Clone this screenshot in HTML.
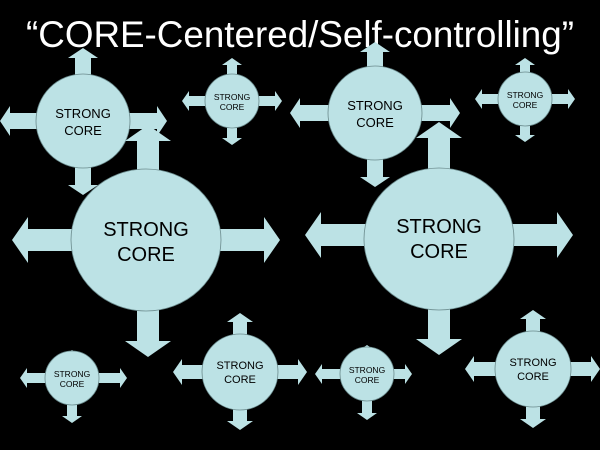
<!DOCTYPE html>
<html><head><style>
html,body{margin:0;padding:0;background:#000;width:600px;height:450px;overflow:hidden}
svg{display:block}
text{font-family:"Liberation Sans",Arial,sans-serif;fill:#000;text-anchor:middle}
polygon,circle,ellipse{fill:#bce2e5}
circle,ellipse{stroke:#6a8a8c;stroke-width:0.8}
</style></head><body>
<svg width="600" height="450" viewBox="0 0 600 450">
<rect width="600" height="450" fill="#000"/>
<text x="300" y="47" style="fill:#fff;font-size:37px" textLength="548" lengthAdjust="spacingAndGlyphs">“CORE-Centered/Self-controlling”</text>

<!-- node 1 -->
<polygon points="75,121 75,58 68,58 83,48 98,58 91,58 91,121"/>
<polygon points="75,121 75,185 68,185 83,195 98,185 91,185 91,121"/>
<polygon points="83,113 10,113 10,106 0,121 10,136 10,129 83,129"/>
<polygon points="83,113 157,113 157,106 167,121 157,136 157,129 83,129"/>
<circle cx="83" cy="121" r="47"/>
<text x="83" y="118" font-size="13">STRONG</text><text x="83" y="135" font-size="13">CORE</text>

<!-- node 2 -->
<polygon points="227,101 227,65 222,65 232,58 242,65 237,65 237,101"/>
<polygon points="227,101 227,138 222,138 232,145 242,138 237,138 237,101"/>
<polygon points="232,96 189,96 189,91 182,101 189,111 189,106 232,106"/>
<polygon points="232,96 275,96 275,91 282,101 275,111 275,106 232,106"/>
<circle cx="232" cy="101" r="27"/>
<text x="232" y="100" font-size="8.5">STRONG</text><text x="232" y="110" font-size="8.5">CORE</text>

<!-- node 4 -->
<polygon points="367,113 367,52 360,52 375,42 390,52 383,52 383,113"/>
<polygon points="367,113 367,177 360,177 375,187 390,177 383,177 383,113"/>
<polygon points="375,105 300,105 300,98 290,113 300,128 300,121 375,121"/>
<polygon points="375,105 450,105 450,98 460,113 450,128 450,121 375,121"/>
<circle cx="375" cy="113" r="47"/>
<text x="375" y="110" font-size="13">STRONG</text><text x="375" y="127" font-size="13">CORE</text>

<!-- node 5 -->
<polygon points="520,99 520,65 515,65 525,58 535,65 530,65 530,99"/>
<polygon points="520,99 520,135 515,135 525,142 535,135 530,135 530,99"/>
<polygon points="525,94 482,94 482,89 475,99 482,109 482,104 525,104"/>
<polygon points="525,94 568,94 568,89 575,99 568,109 568,104 525,104"/>
<circle cx="525" cy="99" r="27"/>
<text x="525" y="98" font-size="8.5">STRONG</text><text x="525" y="108" font-size="8.5">CORE</text>

<!-- node 7 -->
<polygon points="67,378 67,357 62,357 72,350 82,357 77,357 77,378"/>
<polygon points="67,378 67,416 62,416 72,423 82,416 77,416 77,378"/>
<polygon points="72,373 27,373 27,368 20,378 27,388 27,383 72,383"/>
<polygon points="72,373 120,373 120,368 127,378 120,388 120,383 72,383"/>
<circle cx="72" cy="378" r="27"/>
<text x="72" y="377" font-size="8.5">STRONG</text><text x="72" y="387" font-size="8.5">CORE</text>

<!-- node 8 -->
<polygon points="233,372 233,322 227,322 240,313 253,322 247,322 247,372"/>
<polygon points="233,372 233,421 227,421 240,430 253,421 247,421 247,372"/>
<polygon points="240,365 182,365 182,359 173,372 182,385 182,379 240,379"/>
<polygon points="240,365 298,365 298,359 307,372 298,385 298,379 240,379"/>
<circle cx="240" cy="372" r="38"/>
<text x="240" y="369" font-size="11">STRONG</text><text x="240" y="383" font-size="11">CORE</text>

<!-- node 9 -->
<polygon points="362,374 362,352 357,352 367,345 377,352 372,352 372,374"/>
<polygon points="362,374 362,413 357,413 367,420 377,413 372,413 372,374"/>
<polygon points="367,369 322,369 322,364 315,374 322,384 322,379 367,379"/>
<polygon points="367,369 405,369 405,364 412,374 405,384 405,379 367,379"/>
<circle cx="367" cy="374" r="27"/>
<text x="367" y="373" font-size="8.5">STRONG</text><text x="367" y="383" font-size="8.5">CORE</text>

<!-- node 10 -->
<polygon points="526,369 526,319 520,319 533,310 546,319 540,319 540,369"/>
<polygon points="526,369 526,419 520,419 533,428 546,419 540,419 540,369"/>
<polygon points="533,362 474,362 474,356 465,369 474,382 474,376 533,376"/>
<polygon points="533,362 591,362 591,356 600,369 591,382 591,376 533,376"/>
<circle cx="533" cy="369" r="38"/>
<text x="533" y="366" font-size="11">STRONG</text><text x="533" y="380" font-size="11">CORE</text>

<!-- node 3 large -->
<polygon points="137,240 137,141 125,141 148,125 171,141 159,141 159,240"/>
<polygon points="137,240 137,341 125,341 148,357 171,341 159,341 159,240"/>
<polygon points="145,229 28,229 28,217 12,240 28,263 28,251 145,251"/>
<polygon points="145,229 264,229 264,217 280,240 264,263 264,251 145,251"/>
<ellipse cx="146" cy="240" rx="75" ry="71"/>
<text x="146" y="236" font-size="20">STRONG</text><text x="146" y="261" font-size="20">CORE</text>

<!-- node 6 large -->
<polygon points="428,235 428,138 416,138 439,122 462,138 450,138 450,235"/>
<polygon points="428,235 428,339 416,339 439,355 462,339 450,339 450,235"/>
<polygon points="439,224 321,224 321,212 305,235 321,258 321,246 439,246"/>
<polygon points="439,224 557,224 557,212 573,235 557,258 557,246 439,246"/>
<ellipse cx="439" cy="239" rx="75" ry="71"/>
<text x="439" y="233" font-size="20">STRONG</text><text x="439" y="258" font-size="20">CORE</text>
</svg>
</body></html>
